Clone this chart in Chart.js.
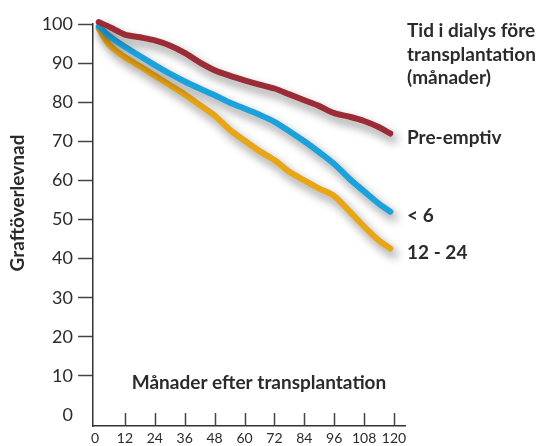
<!DOCTYPE html>
<html lang="sv">
<head>
<meta charset="utf-8">
<title>Graftöverlevnad</title>
<script src="https://cdn.jsdelivr.net/npm/chart.js@4.4.1/dist/chart.umd.min.js"></script>
<style>
  html, body { margin: 0; padding: 0; background: #fff; }
  canvas { display: block; }
</style>
</head>
<body>
<canvas id="graftChart" width="543" height="446"></canvas>
<script>
// månader efter transplantation
const months = [1.5, 6, 12, 18, 24, 30, 36, 42, 48, 54, 60, 66, 72, 78, 84, 90, 96, 102, 108, 114, 118.5];

// graftöverlevnad (%) per grupp
const preEmptiv = [100.5, 99.2, 97.3, 96.6, 95.8, 94.5, 92.6, 90.2, 88.2, 86.8, 85.6, 84.5, 83.5, 82.0, 80.5, 79.0, 77.2, 76.3, 75.2, 73.6, 72.0];
const underSex = [99.4, 96.8, 94.2, 91.8, 89.5, 87.3, 85.3, 83.5, 81.8, 79.9, 78.4, 76.8, 75.0, 72.6, 70.0, 67.2, 64.2, 60.5, 57.2, 54.0, 52.0];
const tolvTill24 = [98.8, 94.5, 91.5, 89.2, 86.8, 84.4, 82.0, 79.3, 76.6, 73.0, 70.2, 67.5, 65.2, 62.2, 60.0, 57.9, 56.0, 52.2, 48.2, 44.6, 42.6];

const xTicks = [0, 12, 24, 36, 48, 60, 72, 84, 96, 108, 120];
const yTicks = [0, 10, 20, 30, 40, 50, 60, 70, 80, 90, 100];

const seriesNames = ['Pre-emptiv', '< 6', '12 - 24'];
const seriesColors = ['#9b2b35', '#1ba2dc', '#e8a515'];
const legendTitle = ['Tid i dialys före', 'transplantation', '(månader)'];
const xTitle = 'Månader efter transplantation';
const yTitle = 'Graftöverlevnad';

const textColor = '#2b2b2b';
const fontFamily = 'Lato, "Open Sans", sans-serif';

function toPoints(values) {
    return months.map((m, i) => ({ x: m, y: values[i] }));
}

// mjuk skugga under linjerna
const shadowPlugin = {
    id: 'lineShadow',
    beforeDatasetsDraw(chart) {
        const ctx = chart.ctx;
        ctx.save();
        ctx.shadowColor = 'rgba(0, 0, 0, 0.45)';
        ctx.shadowBlur = 10;
        ctx.shadowOffsetX = 4;
        ctx.shadowOffsetY = 6;
    },
    afterDatasetsDraw(chart) {
        chart.ctx.restore();
    }
};

// x-axelns streck pekar inåt (uppåt)
const innerTicksPlugin = {
    id: 'innerTicks',
    afterDraw(chart) {
        const ctx = chart.ctx;
        const x = chart.scales.x;
        const bottom = chart.chartArea.bottom;
        ctx.save();
        ctx.strokeStyle = '#444';
        ctx.lineWidth = 1.5;
        xTicks.forEach(v => {
            if (v === 0) return;
            const px = Math.round(x.getPixelForValue(v)) + 0.5;
            ctx.beginPath();
            ctx.moveTo(px, bottom);
            ctx.lineTo(px, bottom - 13);
            ctx.stroke();
        });
        ctx.restore();
    }
};

const labelsPlugin = {
    id: 'textLabels',
    afterDraw(chart) {
        const ctx = chart.ctx;
        const area = chart.chartArea;
        const y = chart.scales.y;
        const textX = area.right + 2;
        ctx.save();
        ctx.fillStyle = textColor;
        ctx.textBaseline = 'middle';
        ctx.textAlign = 'left';
        ctx.font = 'bold 19px ' + fontFamily;

        legendTitle.forEach((line, i) => {
            ctx.fillText(line, textX, area.top + 7 + i * 23.5);
        });

        const ends = [preEmptiv, underSex, tolvTill24];
        ends.forEach((values, i) => {
            const py = y.getPixelForValue(values[values.length - 1]) + 4;
            ctx.fillText(seriesNames[i], textX, py);
        });

        // x-titel inne i diagrammet
        ctx.textAlign = 'center';
        ctx.fillText(xTitle, 259, 383);

        // y-titel, roterad
        ctx.translate(18, 203);
        ctx.rotate(-Math.PI / 2);
        ctx.fillText(yTitle, 0, 0);
        ctx.restore();
    }
};

const ctx = document.getElementById('graftChart').getContext('2d');
new Chart(ctx, {
    type: 'line',
    data: {
        datasets: [preEmptiv, underSex, tolvTill24].map((values, i) => ({
            label: seriesNames[i],
            data: toPoints(values),
            borderColor: seriesColors[i],
            borderWidth: 6,
            borderCapStyle: 'round',
            borderJoinStyle: 'round',
            pointRadius: 0,
            tension: 0.3,
            fill: false,
            clip: false
        }))
    },
    options: {
        responsive: false,
        animation: false,
        events: [],
        layout: {
            padding: { top: 24, right: 138, left: 0, bottom: 0 }
        },
        plugins: {
            legend: { display: false },
            tooltip: { enabled: false }
        },
        scales: {
            x: {
                type: 'linear',
                min: -0.8,
                max: 124.4,
                afterBuildTicks: scale => { scale.ticks = xTicks.map(v => ({ value: v })); },
                afterFit: scale => { scale.height = 20; },
                grid: { display: false, drawTicks: false },
                border: { display: true, color: '#333', width: 1.5 },
                ticks: {
                    padding: 4,
                    color: textColor,
                    autoSkip: false,
                    maxRotation: 0,
                    font: { family: fontFamily, size: 14 }
                }
            },
            y: {
                min: -2.8,
                max: 100,
                afterBuildTicks: scale => { scale.ticks = yTicks.map(v => ({ value: v })); },
                afterFit: scale => { scale.width = 93; },
                grid: {
                    drawOnChartArea: false,
                    drawTicks: true,
                    tickLength: 15,
                    tickWidth: 1.5,
                    tickColor: c => (c.tick && c.tick.value === 0 ? 'rgba(0,0,0,0)' : '#444')
                },
                border: { display: true, color: '#333', width: 1.5 },
                ticks: {
                    padding: 5,
                    color: textColor,
                    font: { family: fontFamily, size: 18 }
                }
            }
        }
    },
    plugins: [shadowPlugin, innerTicksPlugin, labelsPlugin]
});
</script>
</body>
</html>
